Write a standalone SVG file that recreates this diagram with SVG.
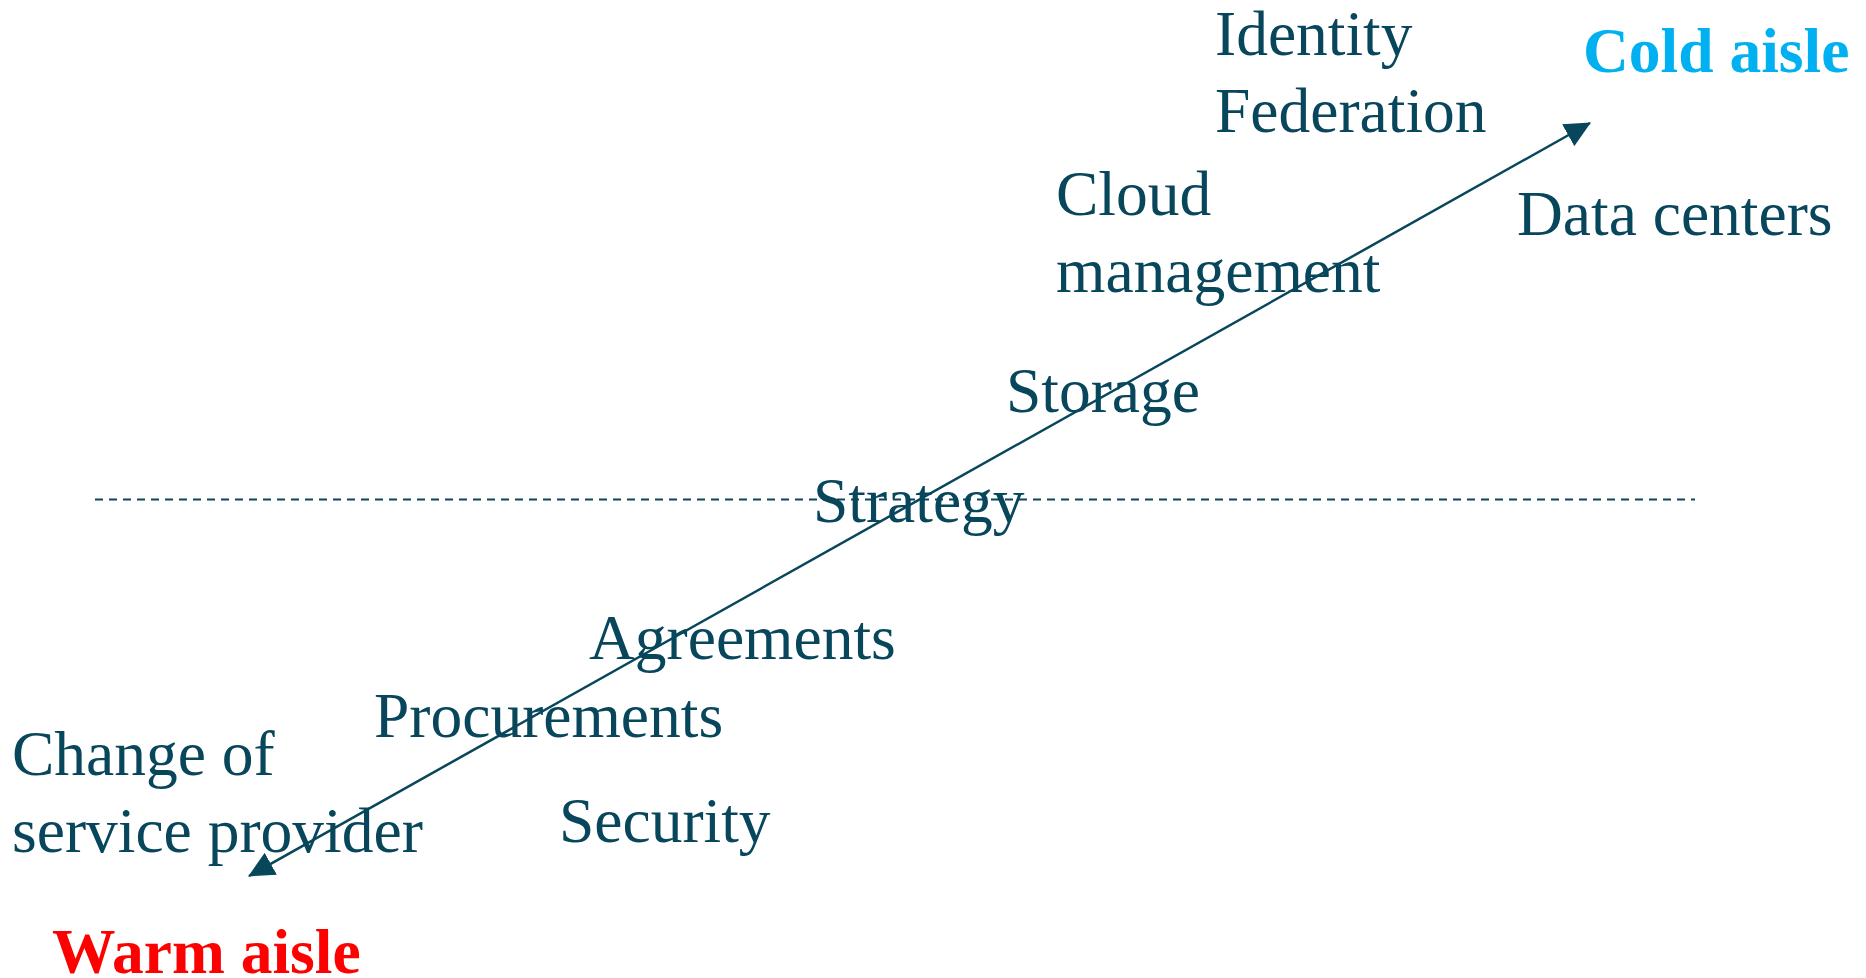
<svg xmlns="http://www.w3.org/2000/svg" width="1866" height="978" viewBox="0 0 1866 978">
<style>
.t{font-family:"Liberation Serif","Times New Roman",serif;font-size:63.5px;fill:#08465C}
.b{font-family:"Liberation Serif","Times New Roman",serif;font-size:63.5px;font-weight:bold}
</style>
<defs>
<marker id="ah" markerUnits="userSpaceOnUse" viewBox="0 0 26 25" markerWidth="26" markerHeight="25" refX="25" refY="12.5" orient="auto-start-reverse">
<path d="M0,0 L26,12.5 L0,25 z" fill="#08465C"/>
</marker>
</defs>
<rect width="1866" height="978" fill="#ffffff"/>
<g id="connectors">
<line id="divider" x1="95" y1="499.5" x2="1695" y2="499.5" stroke="#08465C" stroke-width="2" stroke-dasharray="8 6"/>
<line id="axis" x1="249" y1="876" x2="1590" y2="123" stroke="#08465C" stroke-width="2.5" marker-start="url(#ah)" marker-end="url(#ah)"/>
</g>
<g id="cold"><text class="b" x="1583" y="72" fill="#00B0F0">Cold aisle</text></g>
<g id="warm"><text class="b" x="52" y="973" fill="#FF0000">Warm aisle</text></g>
<g id="identity"><text class="t" x="1215" y="55">Identity</text><text class="t" x="1215" y="132">Federation</text></g>
<g id="cloud"><text class="t" x="1056" y="215">Cloud</text><text class="t" x="1056" y="292">management</text></g>
<g id="datacenters"><text class="t" x="1517" y="235">Data centers</text></g>
<g id="storage"><text class="t" x="1006" y="412">Storage</text></g>
<g id="strategy"><text class="t" x="813" y="522">Strategy</text></g>
<g id="agreements"><text class="t" x="589" y="659">Agreements</text></g>
<g id="procurements"><text class="t" x="374" y="737">Procurements</text></g>
<g id="change"><text class="t" x="12" y="775">Change of</text><text class="t" x="12" y="852">service provider</text></g>
<g id="security"><text class="t" x="559" y="842">Security</text></g>
</svg>
